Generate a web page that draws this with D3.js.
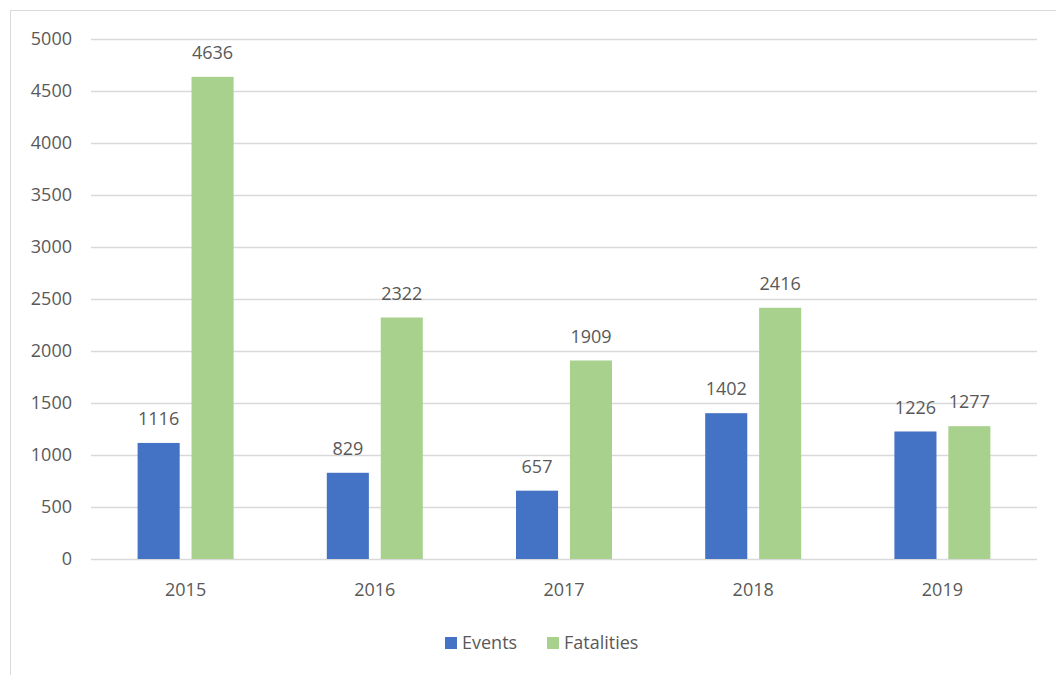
<!DOCTYPE html>
<html>
<head>
<meta charset="utf-8">
<script src="https://cdn.jsdelivr.net/npm/d3@7"></script>
<style>
  body { margin: 0; background: #fff; }
  text { font-family: "Open Sans", "Noto Sans", sans-serif; fill: #595959; }
</style>
</head>
<body>
<div id="chart"></div>
<script>
// Values
const years = ['2015', '2016', '2017', '2018', '2019'];
const events = [1116, 829, 657, 1402, 1226];
const fatalities = [4636, 2322, 1909, 2416, 1277];
const seriesNames = ['Events', 'Fatalities'];
const yTicks = [0, 500, 1000, 1500, 2000, 2500, 3000, 3500, 4000, 4500, 5000];

const colors = ['#4472C4', '#A9D18E'];
const W = 1056, H = 675;
const plot = { left: 91, right: 1037, top: 39, bottom: 559 };

const svg = d3.select('#chart').append('svg')
  .attr('width', W)
  .attr('height', H);

// chart frame
svg.append('rect')
  .attr('x', 10.5).attr('y', 10.5)
  .attr('width', W).attr('height', H)
  .attr('fill', 'none')
  .attr('stroke', '#D9D9D9');

const x = d3.scaleBand().domain(years).range([plot.left, plot.right]);
const x1 = d3.scaleBand().domain(seriesNames).range([0, 96]).paddingInner(0.22);
const y = d3.scaleLinear().domain([0, 5000]).range([plot.bottom, plot.top]);

// gridlines
svg.append('g').selectAll('line')
  .data(yTicks)
  .enter().append('line')
    .attr('x1', plot.left).attr('x2', plot.right)
    .attr('y1', d => Math.round(y(d)) + 0.5)
    .attr('y2', d => Math.round(y(d)) + 0.5)
    .attr('stroke', '#D9D9D9')
    .attr('stroke-width', 1.5);

// y labels
svg.append('g').selectAll('text')
  .data(yTicks)
  .enter().append('text')
    .attr('x', 72)
    .attr('y', d => y(d))
    .attr('dy', '0.35em')
    .attr('text-anchor', 'end')
    .style('font-size', '18px')
    .text(d => d);

// x labels
svg.append('g').selectAll('text')
  .data(years)
  .enter().append('text')
    .attr('x', d => x(d) + x.bandwidth() / 2)
    .attr('y', 590)
    .attr('dy', '0.35em')
    .attr('text-anchor', 'middle')
    .style('font-size', '18px')
    .text(d => d);

// bars + labels
const rows = years.map((yr, i) => ({ year: yr, vals: [events[i], fatalities[i]] }));
const groups = svg.append('g').selectAll('g')
  .data(rows)
  .enter().append('g')
    .attr('transform', d => `translate(${x(d.year) + x.bandwidth() / 2 - 48},0)`);

groups.selectAll('rect')
  .data(d => d.vals.map((v, k) => ({ name: seriesNames[k], v, k })))
  .enter().append('rect')
    .attr('x', d => x1(d.name))
    .attr('width', x1.bandwidth())
    .attr('y', d => y(d.v))
    .attr('height', d => y(0) - y(d.v))
    .attr('fill', d => colors[d.k]);

groups.selectAll('text')
  .data(d => d.vals.map((v, k) => ({ name: seriesNames[k], v, k })))
  .enter().append('text')
    .attr('x', d => x1(d.name) + x1.bandwidth() / 2)
    .attr('y', d => y(d.v) - 24)
    .attr('dy', '0.35em')
    .attr('text-anchor', 'middle')
    .style('font-size', '18px')
    .text(d => d.v);

// legend
const legend = svg.append('g').selectAll('g')
  .data(seriesNames)
  .enter().append('g')
    .attr('transform', (d, i) => `translate(${i === 0 ? 445 : 547},637)`);
legend.append('rect')
  .attr('width', 12).attr('height', 12)
  .attr('fill', (d, i) => colors[i]);
legend.append('text')
  .attr('x', 17).attr('y', 6)
  .attr('dy', '0.35em')
  .style('font-size', '18px')
  .text(d => d);
</script>
</body>
</html>
